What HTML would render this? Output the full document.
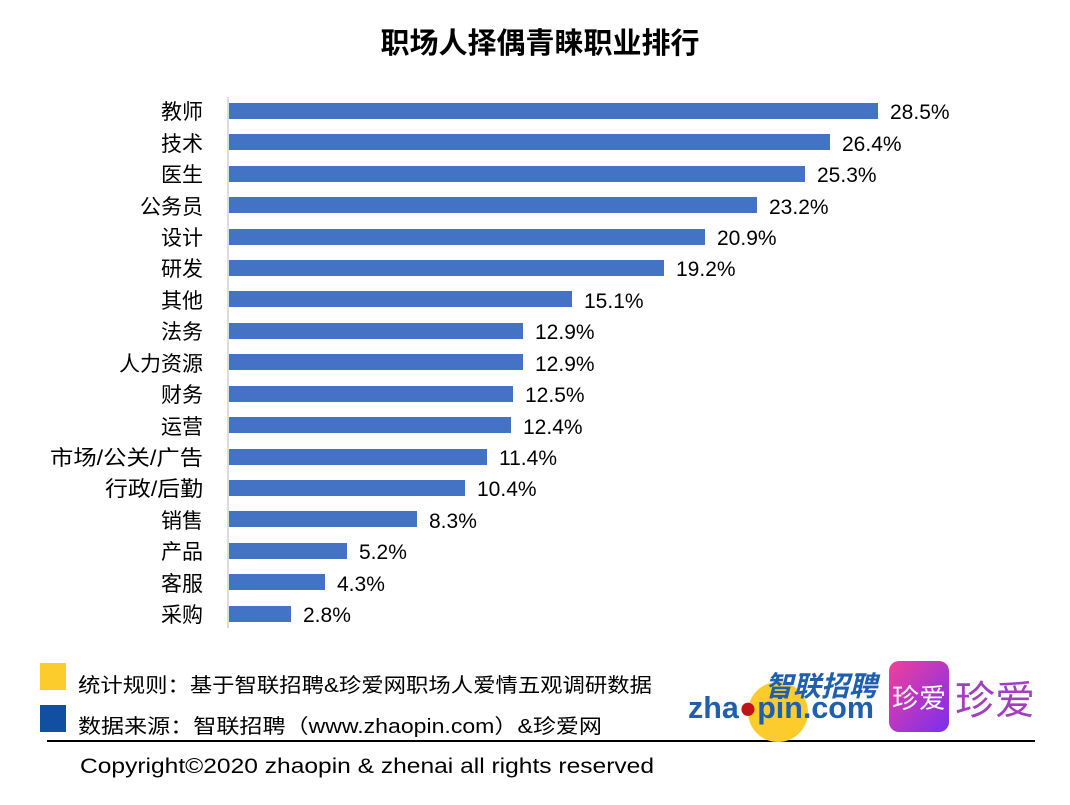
<!DOCTYPE html>
<html><head><meta charset="utf-8"><style>
html,body{margin:0;padding:0;background:#fff;}
svg text{font-family:"Liberation Sans","Noto Sans CJK SC",sans-serif;}
</style></head><body>
<svg width="1070" height="800" viewBox="0 0 1070 800" xmlns="http://www.w3.org/2000/svg">
<rect width="1070" height="800" fill="#fff"/>
<text x="540" y="53" text-anchor="middle" font-size="29" font-weight="bold" fill="#000">职场人择偶青睐职业排行</text>
<line x1="228" y1="97" x2="228" y2="628" stroke="#d0d0d0" stroke-width="1.5"/>
<g font-size="21" fill="#000">
<g text-anchor="end">
<text x="203" y="119">教师</text>
<text x="203" y="151">技术</text>
<text x="203" y="182">医生</text>
<text x="203" y="214">公务员</text>
<text x="203" y="245">设计</text>
<text x="203" y="276">研发</text>
<text x="203" y="308">其他</text>
<text x="203" y="339">法务</text>
<text x="203" y="371">人力资源</text>
<text x="203" y="402">财务</text>
<text x="203" y="434">运营</text>
<text x="203" y="465" textLength="153" lengthAdjust="spacingAndGlyphs">市场/公关/广告</text>
<text x="203" y="496" textLength="98" lengthAdjust="spacingAndGlyphs">行政/后勤</text>
<text x="203" y="528">销售</text>
<text x="203" y="559">产品</text>
<text x="203" y="591">客服</text>
<text x="203" y="622">采购</text>
</g>
<g fill="#4472c4">
<rect x="229" y="103" width="649" height="16"/>
<rect x="229" y="134" width="601" height="16"/>
<rect x="229" y="166" width="576" height="16"/>
<rect x="229" y="197" width="528" height="16"/>
<rect x="229" y="229" width="476" height="16"/>
<rect x="229" y="260" width="435" height="16"/>
<rect x="229" y="291" width="343" height="16"/>
<rect x="229" y="323" width="294" height="16"/>
<rect x="229" y="354" width="294" height="16"/>
<rect x="229" y="386" width="284" height="16"/>
<rect x="229" y="417" width="282" height="16"/>
<rect x="229" y="449" width="258" height="16"/>
<rect x="229" y="480" width="236" height="16"/>
<rect x="229" y="511" width="188" height="16"/>
<rect x="229" y="543" width="118" height="16"/>
<rect x="229" y="574" width="96" height="16"/>
<rect x="229" y="606" width="62" height="16"/>
</g>
<text x="890" y="119">28.5%</text>
<text x="842" y="151">26.4%</text>
<text x="817" y="182">25.3%</text>
<text x="769" y="214">23.2%</text>
<text x="717" y="245">20.9%</text>
<text x="676" y="276">19.2%</text>
<text x="584" y="308">15.1%</text>
<text x="535" y="339">12.9%</text>
<text x="535" y="371">12.9%</text>
<text x="525" y="402">12.5%</text>
<text x="523" y="434">12.4%</text>
<text x="499" y="465">11.4%</text>
<text x="477" y="496">10.4%</text>
<text x="429" y="528">8.3%</text>
<text x="359" y="559">5.2%</text>
<text x="337" y="591">4.3%</text>
<text x="303" y="622">2.8%</text>
</g>
<rect x="40" y="663" width="26" height="27" fill="#fccc2c"/>
<rect x="40" y="705" width="26" height="27" fill="#1150a0"/>
<text x="78" y="692" font-size="20" fill="#000" textLength="574" lengthAdjust="spacingAndGlyphs">统计规则：基于智联招聘&amp;珍爱网职场人爱情五观调研数据</text>
<text x="78" y="733" font-size="20" fill="#000" textLength="524" lengthAdjust="spacingAndGlyphs">数据来源：智联招聘（www.zhaopin.com）&amp;珍爱网</text>
<line x1="47" y1="741" x2="1035" y2="741" stroke="#000" stroke-width="2"/>
<text x="80" y="773" font-size="21" fill="#000" textLength="574" lengthAdjust="spacingAndGlyphs">Copyright©2020 zhaopin &amp; zhenai  all rights reserved</text>
<circle cx="778" cy="712" r="30" fill="#fccc2c"/>
<text x="765" y="696" font-size="28" font-weight="bold" font-style="italic" fill="#1f5fb0">智联招聘</text>
<text x="688" y="718" font-size="31" font-weight="bold" fill="#1f5fb0" textLength="186" lengthAdjust="spacingAndGlyphs">zha<tspan fill="#c0141a">●</tspan>pin.com</text>
<defs><linearGradient id="g" x1="0" y1="0" x2="1" y2="1"><stop offset="0" stop-color="#f0409a"/><stop offset="1" stop-color="#7a2ef0"/></linearGradient></defs>
<rect x="889" y="661" width="60" height="71" rx="10" fill="url(#g)"/>
<text x="919" y="708" text-anchor="middle" font-size="27" fill="#fff">珍爱</text>
<text x="995" y="714" text-anchor="middle" font-size="40" fill="#a040c0">珍爱</text>
</svg>
</body></html>
